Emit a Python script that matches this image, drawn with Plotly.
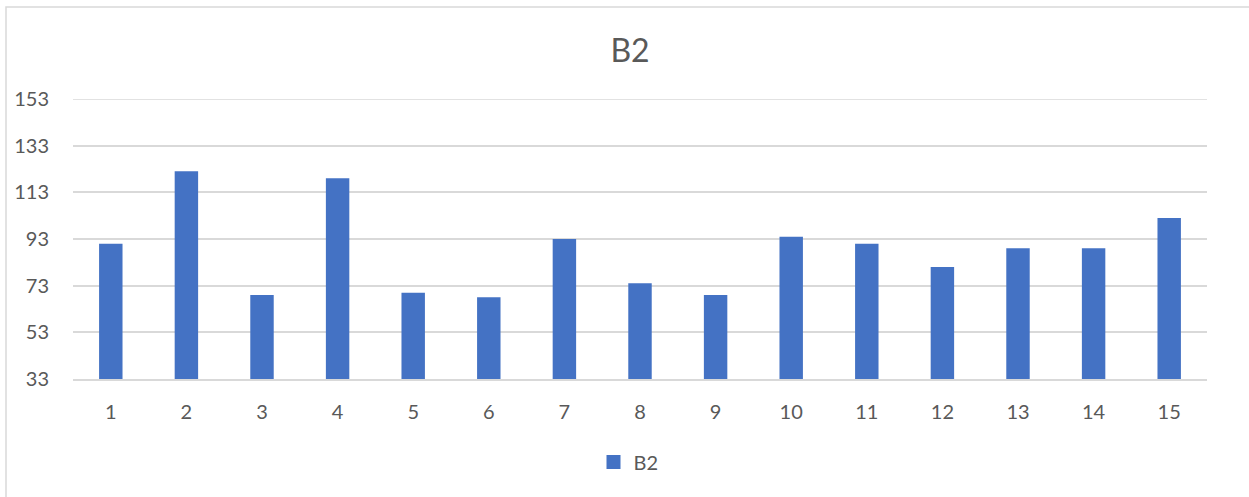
import plotly.graph_objects as go

categories = [str(i) for i in range(1, 16)]
b2_values = [91, 122, 69, 119, 70, 68, 93, 74, 69, 94, 91, 81, 89, 89, 102]
y_ticks = [33, 53, 73, 93, 113, 133, 153]

W, H = 1249, 497
L, R, T, B = 73, 42, 99, 118
pw, ph = W - L - R, H - T - B
TEXT = "#595959"
FONT = "Lato"
BAR = "#4472C4"
GRID = "#d9d9d9"

fig = go.Figure()
fig.add_trace(
    go.Bar(
        x=categories,
        y=b2_values,
        name="B2",
        marker=dict(color=BAR, line=dict(width=0)),
        showlegend=False,
    )
)
# legend entry with a larger square swatch
fig.add_trace(
    go.Scatter(
        x=[None],
        y=[None],
        mode="markers",
        name="B2",
        marker=dict(symbol="square", size=14, color=BAR),
        showlegend=True,
    )
)

fig.update_layout(
    width=W,
    height=H,
    margin=dict(l=L, r=R, t=T, b=B, pad=0),
    paper_bgcolor="white",
    plot_bgcolor="white",
    bargap=0.69,
    font=dict(family=FONT, color=TEXT, size=20),
    title=dict(
        text="B2",
        xref="container",
        x=630 / W,
        xanchor="center",
        yref="container",
        y=1 - 51 / H,
        yanchor="middle",
        font=dict(size=32, color=TEXT, family=FONT),
    ),
    legend=dict(
        orientation="h",
        x=(628.5 - L) / pw,
        xanchor="center",
        y=-(462 - (T + ph)) / ph,
        yanchor="middle",
        font=dict(size=20, color=TEXT, family=FONT),
        itemwidth=30,
    ),
    xaxis=dict(
        type="category",
        showgrid=False,
        showline=True,
        linecolor=GRID,
        linewidth=1.5,
        ticks="",
        ticklabelstandoff=14,
        tickfont=dict(size=20, color=TEXT, family=FONT),
    ),
    yaxis=dict(
        range=[33, 153],
        tickvals=y_ticks,
        showgrid=True,
        gridcolor=GRID,
        gridwidth=1.5,
        zeroline=False,
        showline=False,
        ticks="",
        ticklabelstandoff=23,
        tickfont=dict(size=20, color=TEXT, family=FONT),
    ),
    shapes=[
        # top gridline at the upper end of the value range
        dict(
            type="line",
            xref="paper",
            yref="y",
            x0=0,
            x1=1,
            y0=y_ticks[-1],
            y1=y_ticks[-1],
            line=dict(color=GRID, width=1.5),
            layer="above",
        ),
        # chart area frame
        dict(
            type="rect",
            xref="paper",
            yref="paper",
            x0=(6 - L) / pw,
            x1=(W + 10 - L) / pw,
            y0=-(H + 10 - (T + ph)) / ph,
            y1=(T + ph - 7) / ph,
            line=dict(color=GRID, width=1.5),
            fillcolor="rgba(0,0,0,0)",
            layer="below",
        ),
    ],
)

fig.write_html("out.html")
